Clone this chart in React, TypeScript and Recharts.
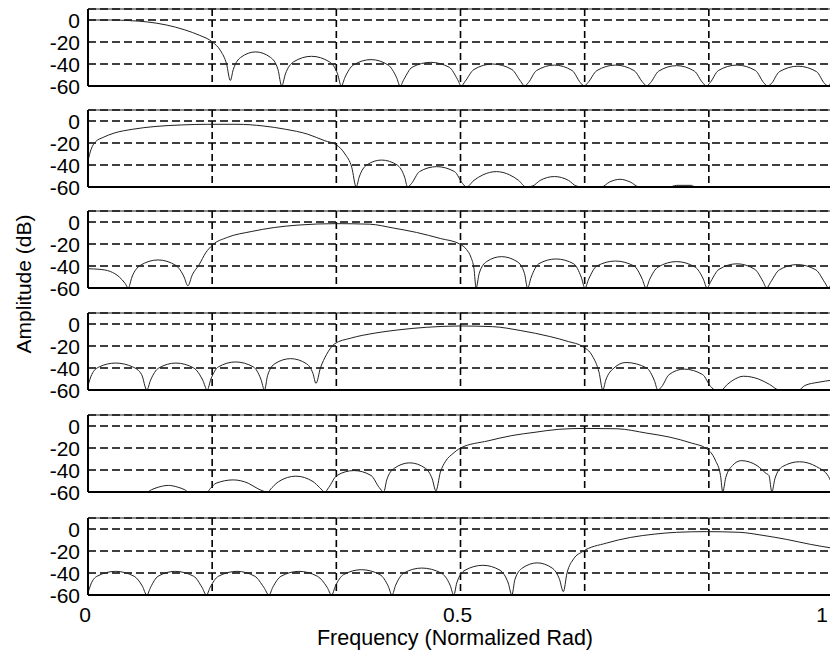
import React from 'react';
import { LineChart, Line, XAxis, YAxis, CartesianGrid, ReferenceLine } from 'recharts';

type Pt = [number, number];

// Normalized frequency ticks (gridlines every 1/6) and their labels
const freqTicks = [0, 1 / 6, 2 / 6, 0.5, 4 / 6, 5 / 6, 1];
const freqTickLabels = ['0', '', '', '0.5', '', '', '1'];
const ampTicks = [0, -20, -40, -60];

const band1: Pt[] = [
  [0, 0], [0.03, 0], [0.055, -0.5], [0.08, -1.8], [0.105, -4.5], [0.13, -9], [0.15, -14], [0.167, -20], [0.178, -28], [0.186, -40], [0.191, -55],
  [0.195, -45], [0.205, -34], [0.225, -29], [0.245, -34], [0.255, -45], [0.26, -60],
  [0.265, -49], [0.276, -38], [0.3, -33], [0.324, -38], [0.335, -49], [0.34, -60],
  [0.345, -52], [0.356, -41], [0.38, -36], [0.403, -41], [0.414, -52], [0.419, -60],
  [0.424, -54], [0.435, -43], [0.46, -38.5], [0.485, -43], [0.496, -54], [0.501, -60],
  [0.506, -56], [0.518, -45], [0.543, -40], [0.569, -45], [0.581, -56], [0.586, -60],
  [0.591, -57], [0.602, -46], [0.626, -41], [0.65, -46], [0.661, -57], [0.666, -60],
  [0.671, -57], [0.683, -46], [0.708, -41], [0.733, -46], [0.745, -57], [0.75, -60],
  [0.755, -57], [0.766, -46.5], [0.79, -41.5], [0.814, -46.5], [0.825, -57], [0.83, -60],
  [0.835, -57], [0.846, -46], [0.871, -41], [0.896, -46], [0.907, -57], [0.912, -60],
  [0.917, -58], [0.928, -47], [0.953, -42], [0.978, -47], [0.989, -58], [0.994, -60], [1, -50],
];

const band2: Pt[] = [
  [0, -36], [0.004, -26], [0.01, -19], [0.02, -15], [0.035, -11], [0.06, -7.5], [0.09, -5], [0.125, -3.6], [0.16, -3], [0.2, -3],
  [0.235, -4.5], [0.265, -7.5], [0.295, -12], [0.318, -18], [0.333, -21.5], [0.345, -30], [0.354, -42], [0.36, -60],
  [0.364, -51], [0.374, -40], [0.394, -35.5], [0.415, -40], [0.425, -51], [0.429, -60],
  [0.434, -57], [0.445, -46], [0.468, -41.5], [0.492, -46], [0.503, -57], [0.508, -60],
  [0.518, -54], [0.53, -49], [0.548, -46], [0.566, -49], [0.578, -54], [0.588, -60],
  [0.597, -59], [0.607, -54], [0.626, -50.5], [0.645, -54], [0.655, -59], [0.664, -60],
  [0.689, -60], [0.7, -55.5], [0.714, -53], [0.728, -55.5], [0.74, -60],
  [0.78, -60], [0.79, -58.5], [0.81, -58.5], [0.815, -60], [1, -60],
];

const band3: Pt[] = [
  [0, -42.5], [0.015, -43], [0.03, -45], [0.042, -50], [0.05, -56], [0.054, -60],
  [0.059, -50], [0.07, -39.5], [0.094, -34.5], [0.118, -39.5], [0.129, -50], [0.134, -58],
  [0.14, -48], [0.149, -39], [0.158, -28], [0.167, -21], [0.187, -14], [0.219, -8.7], [0.25, -5], [0.282, -2.8], [0.333, -1.5],
  [0.378, -2], [0.41, -5.5], [0.441, -9.5], [0.473, -15], [0.499, -20], [0.508, -25], [0.514, -32], [0.518, -42], [0.521, -60],
  [0.525, -47], [0.535, -36], [0.555, -31.5], [0.576, -36], [0.586, -47], [0.59, -60],
  [0.595, -50], [0.605, -38], [0.628, -33.6], [0.652, -38], [0.662, -50], [0.667, -60],
  [0.672, -52], [0.683, -40], [0.708, -35.5], [0.733, -40], [0.744, -52], [0.749, -60],
  [0.754, -52], [0.765, -41], [0.79, -36], [0.815, -41], [0.826, -52], [0.831, -60],
  [0.836, -54], [0.847, -43], [0.871, -38], [0.895, -43], [0.906, -54], [0.911, -60],
  [0.916, -55], [0.928, -43.5], [0.952, -38.7], [0.977, -43.5], [0.989, -55], [0.994, -60], [1, -50],
];

const band4: Pt[] = [
  [0, -56], [0.005, -46], [0.015, -39], [0.037, -35.5], [0.06, -39], [0.072, -46], [0.079, -60],
  [0.084, -51], [0.095, -40], [0.118, -35.5], [0.142, -40], [0.154, -51], [0.16, -60],
  [0.165, -50], [0.175, -39], [0.198, -34.5], [0.222, -39], [0.232, -50], [0.237, -60],
  [0.241, -47], [0.251, -36], [0.272, -31.5], [0.293, -36], [0.302, -45], [0.306, -54],
  [0.312, -40], [0.32, -28], [0.331, -18], [0.352, -13], [0.384, -8.4], [0.416, -5.4], [0.454, -3], [0.499, -1.8],
  [0.543, -2.4], [0.581, -6], [0.62, -11.4], [0.645, -16], [0.664, -20.5], [0.677, -29], [0.686, -44], [0.691, -60],
  [0.695, -51], [0.706, -40], [0.722, -35], [0.75, -40], [0.76, -51], [0.765, -60],
  [0.77, -57], [0.78, -46], [0.8, -41], [0.825, -46], [0.836, -57], [0.842, -60],
  [0.85, -60], [0.858, -55], [0.866, -51], [0.88, -47.5], [0.9, -50], [0.915, -55], [0.928, -60],
  [0.954, -60], [0.962, -56], [0.98, -53], [1, -51],
];

const band5: Pt[] = [
  [0, -60], [0.079, -60], [0.085, -58], [0.095, -55.5], [0.108, -54], [0.12, -55.5], [0.13, -58], [0.135, -60],
  [0.16, -60], [0.164, -57], [0.172, -52], [0.195, -49], [0.215, -52], [0.228, -57], [0.241, -60],
  [0.247, -56], [0.256, -50.5], [0.279, -45.6], [0.302, -50.5], [0.311, -56], [0.318, -60],
  [0.323, -56], [0.334, -45], [0.357, -40.5], [0.38, -45], [0.391, -56], [0.397, -60],
  [0.401, -49], [0.411, -38.5], [0.432, -33.5], [0.453, -38.5], [0.462, -48], [0.467, -59],
  [0.473, -42], [0.48, -32], [0.49, -25], [0.5, -20], [0.537, -13.5], [0.569, -8.7], [0.6, -5.7], [0.632, -3], [0.667, -2.2],
  [0.71, -2.5], [0.75, -6.5], [0.78, -10], [0.81, -15.5], [0.83, -20.5], [0.842, -31], [0.849, -45], [0.852, -60],
  [0.856, -47], [0.865, -36], [0.877, -31.5], [0.898, -36], [0.91, -43], [0.914, -45], [0.918, -60],
  [0.922, -48], [0.932, -37], [0.955, -32.5], [0.978, -37], [0.994, -46], [1, -55],
];

const band6: Pt[] = [
  [0, -58], [0.004, -50], [0.012, -43], [0.037, -38.5], [0.062, -43], [0.073, -52], [0.079, -60],
  [0.084, -53], [0.094, -43], [0.117, -38.5], [0.142, -43], [0.153, -53], [0.159, -60],
  [0.164, -53], [0.175, -43], [0.2, -38.5], [0.224, -43], [0.236, -53], [0.243, -60],
  [0.248, -53], [0.259, -43], [0.283, -38.5], [0.308, -43], [0.321, -53], [0.327, -60],
  [0.332, -52], [0.343, -41.5], [0.367, -37], [0.392, -41.5], [0.403, -52], [0.408, -60],
  [0.413, -51], [0.424, -40], [0.448, -35.5], [0.474, -40], [0.486, -51], [0.491, -60],
  [0.495, -49], [0.506, -37.5], [0.53, -33], [0.553, -37.5], [0.564, -49], [0.569, -60],
  [0.573, -46], [0.583, -35.5], [0.603, -30.8], [0.623, -35.5], [0.633, -46], [0.638, -57],
  [0.643, -40], [0.652, -27], [0.664, -20.5], [0.696, -12.8], [0.728, -7.7], [0.76, -4.7], [0.79, -3], [0.83, -2.4],
  [0.874, -3], [0.906, -5.8], [0.938, -9.5], [0.97, -14], [1, -17.5],
];

const bands: Pt[][] = [band1, band2, band3, band4, band5, band6];
const panelTops = [9, 110, 211, 313, 415, 518];

const PLOT_H = 77;
const CHART_W = 850;
const PLOT_LEFT = 88;
const PLOT_RIGHT = 833;
const PAD = 12;
const FONT = '"Liberation Sans", Arial, sans-serif';

const YTick = (props: any) => {
  const { x, y, payload } = props;
  return (
    <text x={x} y={y} dy={7.5} textAnchor="end" fontSize={21} fontFamily={FONT} fill="#000">
      {payload.value}
    </text>
  );
};

const XTick = (props: any) => {
  const { x, y, index, show } = props;
  const label = freqTickLabels[index];
  if (!show || !label) return <g />;
  return (
    <text x={Math.min(x - 3, 822)} y={y} dy={19} textAnchor="middle" fontSize={21} fontFamily={FONT} fill="#000">
      {label}
    </text>
  );
};

function Panel({ data, top, isBottom }: { data: Pt[]; top: number; isBottom: boolean }) {
  const rows = data.map(([f, db]) => ({ f, db }));
  const xH = isBottom ? 40 : 1;
  const bottomPad = isBottom ? 0 : PAD;
  return (
    <div style={{ position: 'absolute', left: 0, top: top - PAD }}>
      <LineChart
        width={CHART_W}
        height={PAD + PLOT_H + xH + bottomPad}
        data={rows}
        margin={{ top: PAD, right: CHART_W - PLOT_RIGHT, bottom: bottomPad, left: 0 }}
      >
        <CartesianGrid vertical={false} stroke="#000" strokeWidth={1.5} strokeDasharray="8 4" />
        <CartesianGrid horizontal={false} stroke="#000" strokeWidth={1.6} strokeDasharray="7 4" />
        <XAxis
          dataKey="f"
          type="number"
          domain={[0, 1]}
          ticks={freqTicks}
          interval={0}
          height={xH}
          allowDataOverflow
          tickLine={false}
          axisLine={{ stroke: '#000', strokeWidth: 2 }}
          tick={(p: any) => <XTick {...p} show={isBottom} />}
        />
        <YAxis
          type="number"
          domain={[-60, 10]}
          ticks={ampTicks}
          interval={0}
          width={PLOT_LEFT}
          allowDataOverflow
          tickLine={false}
          axisLine={{ stroke: '#000', strokeWidth: 2 }}
          tick={(p: any) => <YTick {...p} />}
        />
        <ReferenceLine y={10} stroke="#222" strokeWidth={1.2} />
        <Line
          type="monotone"
          dataKey="db"
          stroke="#222"
          strokeWidth={1}
          dot={false}
          isAnimationActive={false}
        />
      </LineChart>
    </div>
  );
}

export default function App() {
  return (
    <div
      style={{
        position: 'absolute',
        left: 0,
        top: 0,
        width: 830,
        height: 661,
        overflow: 'hidden',
        background: '#fff',
      }}
    >
      {bands.map((b, i) => (
        <Panel key={i} data={b} top={panelTops[i]} isBottom={i === bands.length - 1} />
      ))}
      <svg
        width={830}
        height={661}
        style={{ position: 'absolute', left: 0, top: 0, pointerEvents: 'none' }}
      >
        <text
          transform="translate(31,284) rotate(-90)"
          textAnchor="middle"
          fontSize={21}
          fontFamily={FONT}
          fill="#000"
        >
          Amplitude (dB)
        </text>
        <text x={455} y={645} textAnchor="middle" fontSize={21.5} fontFamily={FONT} fill="#000">
          Frequency (Normalized Rad)
        </text>
      </svg>
    </div>
  );
}
